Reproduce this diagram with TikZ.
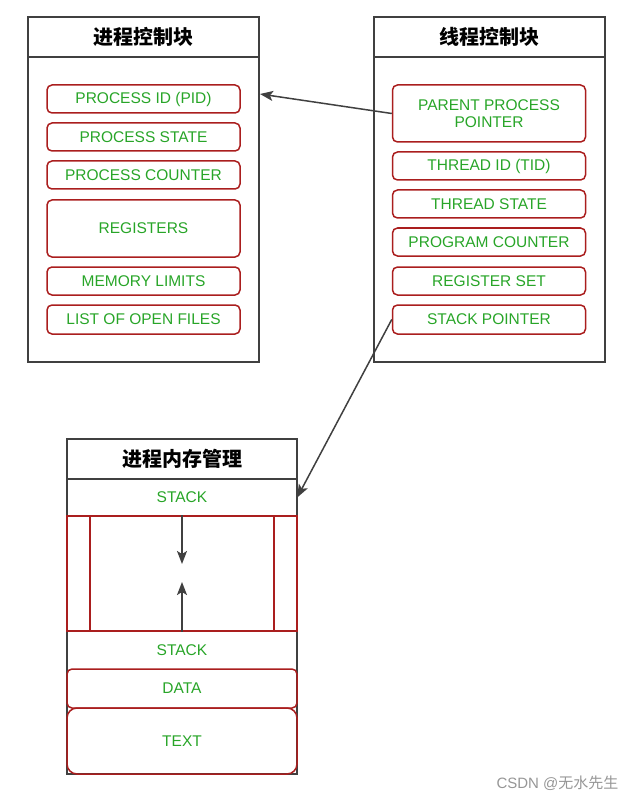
\documentclass[tikz,border=0pt]{standalone}
\usepackage{fontspec}
\setmainfont{Liberation Sans}
\newfontfamily\cjk{Noto Sans CJK SC}
\usetikzlibrary{arrows.meta}

\definecolor{boxgray}{RGB}{64,64,64}
\definecolor{fieldred}{RGB}{170,30,30}
\definecolor{fieldgreen}{RGB}{40,165,40}
\definecolor{markgray}{RGB}{150,150,150}

\tikzset{
  block/.style={draw=boxgray, line width=2pt, minimum width=231, inner sep=0},
  blocktitle/.style={block, minimum height=40, font=\cjk\bfseries\fontsize{20}{24}\selectfont},
  field/.style={draw=fieldred, line width=1.5pt, rounded corners=5pt, minimum width=193,
    inner sep=0, align=center, text=fieldgreen, font=\fontsize{15.5}{17}\selectfont},
  seg/.style={minimum width=230, inner sep=0, text=fieldgreen, font=\fontsize{15.5}{17}\selectfont},
  gap/.style={draw=fieldred, line width=1.5pt, minimum width=230, minimum height=115, inner sep=0},
  conn/.style={-{Stealth[length=13pt,width=10pt,inset=3pt]}, draw=boxgray, fill=boxgray, line width=1.5pt}
}

\begin{document}
\begin{tikzpicture}[x=1pt, y=-1pt]
\useasboundingbox (0,0) rectangle (631,802);

% process control block
\node [block, minimum height=345] (pcb) at (143.5,189.5) {};
\node [blocktitle] (pcb-title) at (143.5,37) {进程控制块};
\foreach \t/\y/\h [count=\i] in {PROCESS ID (PID)/99/28, PROCESS STATE/137/28,
    PROCESS COUNTER/175/28, REGISTERS/228.5/57, MEMORY LIMITS/281/28,
    LIST OF OPEN FILES/319.5/29}
  \node [field, minimum height=\h] (pcb-\i) at (143.5,\y) {\t};

% thread control block
\node [block, minimum height=345] (tcb) at (489,189.5) {};
\node [blocktitle] (tcb-title) at (489,37) {线程控制块};
\foreach \t/\y/\h [count=\i] in {PARENT PROCESS\\POINTER/113.5/57, THREAD ID (TID)/166/28,
    THREAD STATE/204/28, PROGRAM COUNTER/242/28, REGISTER SET/281/28,
    STACK POINTER/319.5/29}
  \node [field, minimum height=\h] (tcb-\i) at (489,\y) {\t};

% process memory
\node [block, minimum width=230, minimum height=335] (mem) at (182,606.5) {};
\node [blocktitle, minimum width=230] (mem-title) at (182,459) {进程内存管理};
\node [seg, minimum height=37] (mem-stack) at (182,497.5) {STACK};
\node [gap] (mem-gap) at (182,573.5) {};
\node [gap, minimum width=184] (mem-free) at (182,573.5) {};
\node [seg, minimum height=38] (mem-base) at (182,650) {STACK};
\node [field, minimum width=230, minimum height=39] (mem-data) at (182,688.5) {DATA};
\node [field, minimum width=230, minimum height=66, rounded corners=10pt] (mem-text) at (182,741) {TEXT};

% growth arrows
\coordinate (heap-end) at (182,564);
\coordinate (stack-end) at (182,582);
\draw [conn] (mem-free.north) -- (heap-end);
\draw [conn] (mem-free.south) -- (stack-end);

% pointers
\coordinate (pcb-ptr) at (260,94);
\draw [conn] (tcb-1.west) -- (pcb-ptr);
\draw [conn] (tcb-6.west) -- (mem-stack.east);

\node [anchor=east, text=markgray, font=\fontsize{15}{18}\selectfont] (credit) at (622,783) {CSDN @{\cjk 无水先生}};

\end{tikzpicture}
\end{document}
